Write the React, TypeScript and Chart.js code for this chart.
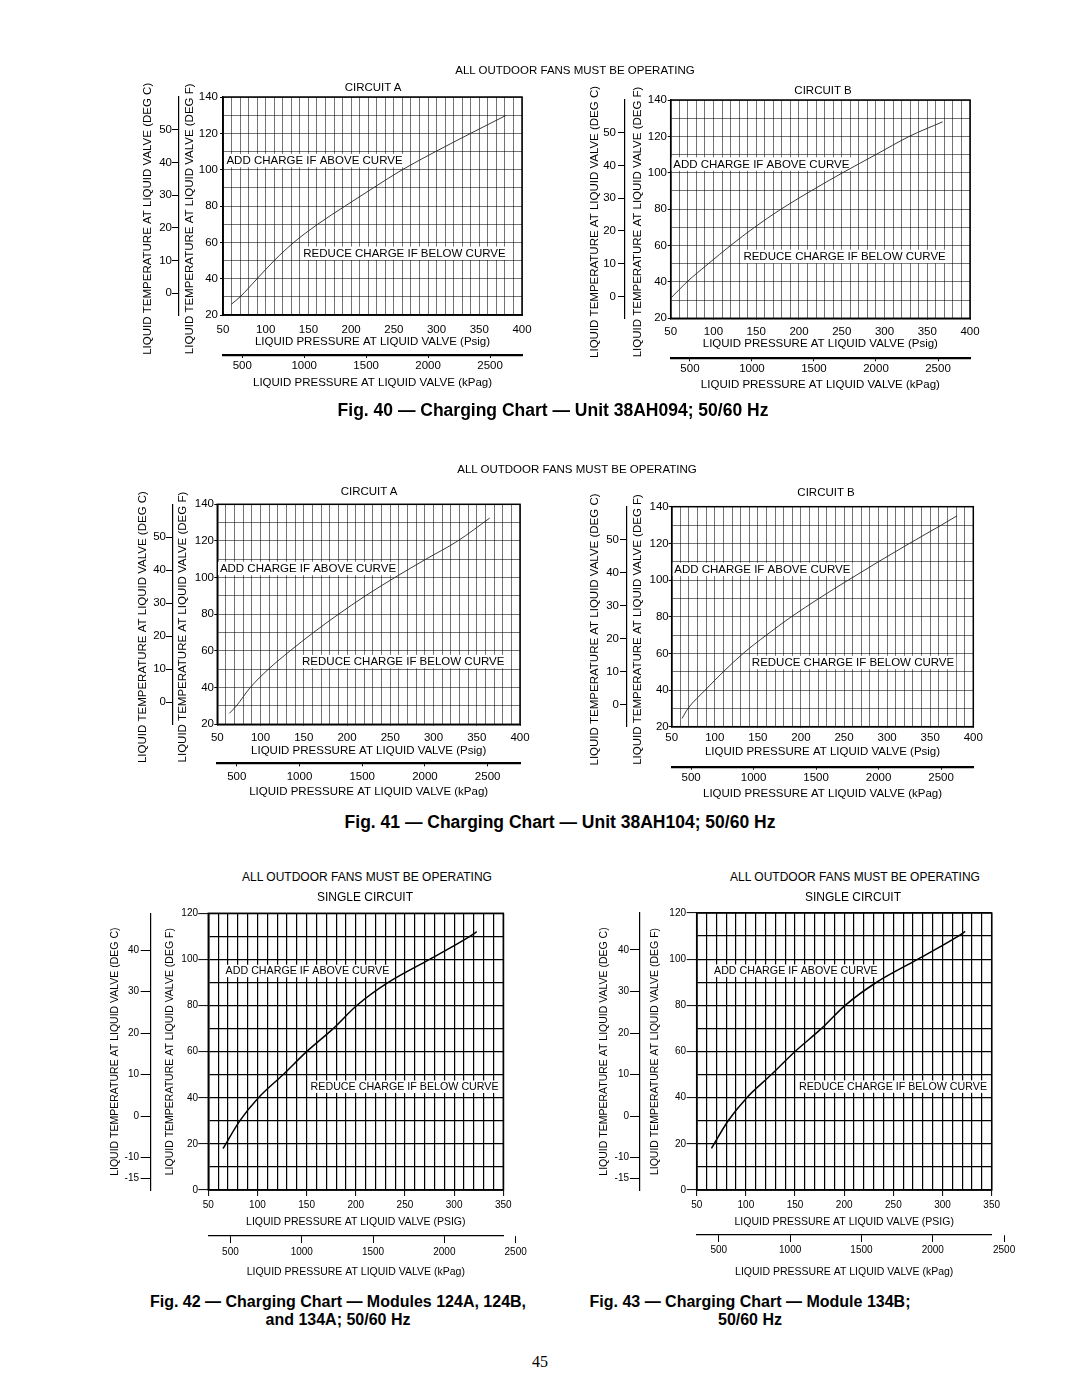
import React, { useEffect, useRef } from 'react';
import { Chart, registerables } from 'chart.js';

Chart.register(...registerables);

const FONT = "'Liberation Sans', Arial, Helvetica, sans-serif";
Chart.defaults.font.family = FONT;
Chart.defaults.color = '#000';

const KPA_PER_PSI = 6.895;

// ---------- data ----------
// Fig. 40 — Unit 38AH094
const fig40A_psig = [60, 70, 90, 110, 133, 161, 193, 226, 260, 299, 340, 381];
const fig40A_degF = [26, 30, 40, 50, 60, 70, 80, 90, 100, 110, 120, 129.8];
const fig40B_psig = [50, 69, 94, 120, 148, 179, 214, 251, 290, 329, 368];
const fig40B_degF = [31, 40, 50, 60, 70, 80, 90, 100, 110, 120, 128];
// Fig. 41 — Unit 38AH104
const fig41A_psig = [64, 72, 88, 109, 134, 161, 190, 221, 255, 291, 328, 365];
const fig41A_degF = [26, 30, 40, 50, 60, 70, 80, 90, 100, 110, 120, 132.5];
const fig41B_psig = [62, 69, 89, 110, 133, 160, 189, 221, 255, 290, 326, 363, 381];
const fig41B_degF = [24.5, 30, 40, 50, 60, 70, 80, 90, 100, 110, 120, 130, 135];
// Fig. 42 — Modules 124A, 124B, 134A
const fig42_psig = [65, 82, 101, 126, 150, 177, 201, 233, 275, 316, 323];
const fig42_degF = [18, 30, 40, 50, 60, 70, 80, 90, 100, 110, 112];
// Fig. 43 — Module 134B
const fig43_psig = [65, 82, 101, 126, 150, 177, 201, 233, 275, 316, 323];
const fig43_degF = [18, 30, 40, 50, 60, 70, 80, 90, 100, 110, 112];

// tick labels
const topPsigLabels = [50, 100, 150, 200, 250, 300, 350, 400];
const topDegFLabels = [20, 40, 60, 80, 100, 120, 140];
const topDegCLabels = [0, 10, 20, 30, 40, 50];
const botPsigLabels = [50, 100, 150, 200, 250, 300, 350];
const botDegFLabels = [0, 20, 40, 60, 80, 100, 120];
const botDegCLabels = [-15, -10, 0, 10, 20, 30, 40];
const kpagLabels = [500, 1000, 1500, 2000, 2500];
const GRID_STEP = 10;

const ADD_TEXT = 'ADD CHARGE IF ABOVE CURVE';
const REDUCE_TEXT = 'REDUCE CHARGE IF BELOW CURVE';

// ---------- styles ----------
const topStyle = {
  tickSize: 11.5, titleSize: 11.5, noteSize: 11.5,
  fTick: 3, cTick: 7, xTick: 0, kTick: 3,
  gridColor: 'rgba(0,0,0,0.55)', gridWidth: 1,
  curveColor: '#222', curveWidth: 0.9, frameWidth: 1.5,
  kBorderWidth: 2.2, cBorderWidth: 1.2,
  psigTitle: 'LIQUID PRESSURE AT LIQUID VALVE (Psig)',
  vTitleTail: '\u00a0'.repeat(8),
};
const bottomStyle = {
  tickSize: 10, titleSize: 10.5, noteSize: 10.7,
  fTick: 10, cTick: 10, xTick: 6, kTick: 7,
  gridColor: '#000', gridWidth: 1.2,
  curveColor: '#000', curveWidth: 1.5, frameWidth: 1.5,
  kBorderWidth: 1.2, cBorderWidth: 1.2,
  psigTitle: 'LIQUID PRESSURE AT LIQUID VALVE (PSIG)',
  vTitleTail: '',
};

type Spec = any;

const specs: Spec[] = [
  {
    ...topStyle, psig: fig40A_psig, degF: fig40A_degF,
    psigLabels: topPsigLabels, fLabels: topDegFLabels, cLabels: topDegCLabels,
    canvas: { left: 125, top: 55, width: 420, height: 345 },
    plot: { l: 223, r: 522, t: 97, b: 315 },
    cLine: 179, cTitleX: 148, fTitleX: 190, fLabelRight: 218, cLabelRight: 172,
    xLabelY: 330, psigTitleY: 342.3, kLineY: 355, kLabelY: 365.7, kTitleY: 383.3,
    notes: [{ text: ADD_TEXT, x: 54, y: 105 }, { text: REDUCE_TEXT, x: 144, y: 54 }],
  },
  {
    ...topStyle, psig: fig40B_psig, degF: fig40B_degF,
    psigLabels: topPsigLabels, fLabels: topDegFLabels, cLabels: topDegCLabels,
    canvas: { left: 570, top: 55, width: 425, height: 350 },
    plot: { l: 670.7, r: 970, t: 100, b: 318.3 },
    cLine: 625, cTitleX: 595, fTitleX: 638, fLabelRight: 667, cLabelRight: 616,
    xLabelY: 331.7, psigTitleY: 344.3, kLineY: 358.3, kLabelY: 369.3, kTitleY: 385,
    notes: [{ text: ADD_TEXT, x: 53, y: 104.8 }, { text: REDUCE_TEXT, x: 135, y: 54 }],
  },
  {
    ...topStyle, psig: fig41A_psig, degF: fig41A_degF,
    psigLabels: topPsigLabels, fLabels: topDegFLabels, cLabels: topDegCLabels,
    canvas: { left: 120, top: 460, width: 425, height: 345 },
    plot: { l: 217.3, r: 520, t: 504.3, b: 724.3 },
    cLine: 173, cTitleX: 143, fTitleX: 183, fLabelRight: 214, cLabelRight: 166,
    xLabelY: 737.7, psigTitleY: 751, kLineY: 763.3, kLabelY: 776.7, kTitleY: 792.3,
    notes: [{ text: ADD_TEXT, x: 53, y: 105 }, { text: REDUCE_TEXT, x: 148, y: 54.2 }],
  },
  {
    ...topStyle, psig: fig41B_psig, degF: fig41B_degF,
    psigLabels: topPsigLabels, fLabels: topDegFLabels, cLabels: topDegCLabels,
    canvas: { left: 570, top: 460, width: 430, height: 345 },
    plot: { l: 671.7, r: 973.3, t: 506.7, b: 726.7 },
    cLine: 627, cTitleX: 595, fTitleX: 638, fLabelRight: 669, cLabelRight: 619,
    xLabelY: 738.3, psigTitleY: 751.7, kLineY: 766.7, kLabelY: 778.3, kTitleY: 794.3,
    notes: [{ text: ADD_TEXT, x: 53, y: 105.8 }, { text: REDUCE_TEXT, x: 143, y: 55 }],
  },
  {
    ...bottomStyle, psig: fig42_psig, degF: fig42_degF,
    psigLabels: botPsigLabels, fLabels: botDegFLabels, cLabels: botDegCLabels,
    canvas: { left: 85, top: 900, width: 460, height: 385 },
    plot: { l: 208.3, r: 503.3, t: 913.3, b: 1190 },
    cLine: 150.7, cTitleX: 115, fTitleX: 170, fLabelRight: 198, cLabelRight: 139,
    xLabelY: 1205.5, psigTitleY: 1222.3, kLineY: 1236, kLabelY: 1252.3, kTitleY: 1272.3,
    notes: [{ text: ADD_TEXT, x: 67.6, y: 95 }, { text: REDUCE_TEXT, x: 154, y: 44.8 }],
  },
  {
    ...bottomStyle, psig: fig43_psig, degF: fig43_degF,
    psigLabels: botPsigLabels, fLabels: botDegFLabels, cLabels: botDegCLabels,
    canvas: { left: 575, top: 900, width: 470, height: 385 },
    plot: { l: 696.7, r: 991.7, t: 913, b: 1190 },
    cLine: 640, cTitleX: 604, fTitleX: 655, fLabelRight: 686, cLabelRight: 629,
    xLabelY: 1205.7, psigTitleY: 1222.3, kLineY: 1235, kLabelY: 1250, kTitleY: 1271.7,
    notes: [{ text: ADD_TEXT, x: 67.6, y: 95 }, { text: REDUCE_TEXT, x: 154, y: 44.8 }],
  },
];

// ---------- plugin: plot frame + zone notes ----------
const zoneNotes = {
  id: 'zoneNotes',
  beforeDatasetsDraw(chart: any, _args: any, opts: any) {
    const { ctx, chartArea, scales } = chart;
    ctx.save();
    ctx.font = `${opts.size}px ${FONT}`;
    ctx.textBaseline = 'middle';
    ctx.textAlign = 'left';
    for (const n of opts.items || []) {
      const x = scales.x.getPixelForValue(n.x);
      const y = scales.y.getPixelForValue(n.y);
      const w = ctx.measureText(n.text).width;
      ctx.fillStyle = '#fff';
      ctx.fillRect(x - 2, y - opts.size * 0.58, w + 4, opts.size * 1.16);
      ctx.fillStyle = '#000';
      ctx.fillText(n.text, x, y + 0.5);
    }
    ctx.strokeStyle = '#000';
    ctx.lineWidth = opts.frameWidth;
    ctx.strokeRect(chartArea.left, chartArea.top, chartArea.right - chartArea.left, chartArea.bottom - chartArea.top);
    ctx.restore();
  },
};

function makeConfig(s: Spec): any {
  const lhTick = s.tickSize * 1.2;
  const lhTitle = s.titleSize * 1.2;
  const cBottom = s.canvas.top + s.canvas.height;
  const cRight = s.canvas.left + s.canvas.width;
  const cW = s.cLine - s.canvas.left;
  const fW = s.plot.l - s.cLine;
  const psigH = s.kLineY - s.plot.b;
  const kH = cBottom - s.kLineY;
  const fMin = s.fLabels[0];
  const fMax = s.fLabels[s.fLabels.length - 1];
  const pMin = s.psigLabels[0];
  const pMax = s.psigLabels[s.psigLabels.length - 1];
  const nn = (v: number) => Math.max(0, v);
  const tickFont = { family: FONT, size: s.tickSize };
  const titleFont = { family: FONT, size: s.titleSize };
  const markColor = (labels: number[]) => (c: any) =>
    c.tick && labels.includes(c.tick.value) ? '#000' : 'rgba(0,0,0,0)';
  const label = (labels: number[]) => (v: any) => (labels.includes(Number(v)) ? String(v) : '');

  return {
    type: 'scatter',
    data: {
      datasets: [
        {
          data: s.psig.map((x: number, i: number) => ({ x, y: s.degF[i] })),
          showLine: true,
          borderColor: s.curveColor,
          borderWidth: s.curveWidth,
          pointRadius: 0,
          cubicInterpolationMode: 'monotone',
          fill: false,
          xAxisID: 'x',
          yAxisID: 'y',
        },
      ],
    },
    options: {
      responsive: false,
      animation: false,
      devicePixelRatio: 1,
      events: [],
      layout: {
        padding: { left: 0, top: s.plot.t - s.canvas.top, right: cRight - s.plot.r, bottom: 0 },
      },
      plugins: {
        legend: { display: false },
        tooltip: { enabled: false },
        zoneNotes: { items: s.notes, size: s.noteSize, frameWidth: s.frameWidth },
      },
      scales: {
        x: {
          type: 'linear', axis: 'x', position: 'bottom', weight: 0,
          min: pMin, max: pMax,
          afterFit: (sc: any) => { sc.height = psigH; },
          ticks: {
            stepSize: GRID_STEP, autoSkip: false, maxRotation: 0, minRotation: 0,
            font: tickFont, color: '#000',
            padding: nn(s.xLabelY - s.plot.b - s.xTick - lhTick / 2),
            callback: label(s.psigLabels),
          },
          grid: {
            color: s.gridColor, lineWidth: s.gridWidth, drawTicks: true,
            tickLength: s.xTick, tickColor: markColor(s.psigLabels), tickWidth: 1,
          },
          border: { display: true, color: '#000', width: 1.5 },
          title: {
            display: true, text: s.psigTitle, font: titleFont, color: '#000',
            padding: { top: 0, bottom: nn(s.kLineY - s.psigTitleY - lhTitle / 2) },
          },
        },
        xk: {
          type: 'linear', axis: 'x', position: 'bottom', weight: 10,
          min: pMin * KPA_PER_PSI, max: pMax * KPA_PER_PSI,
          afterBuildTicks: (sc: any) => { sc.ticks = kpagLabels.map((v) => ({ value: v })); },
          afterFit: (sc: any) => { sc.height = kH; },
          ticks: {
            autoSkip: false, maxRotation: 0, minRotation: 0, font: tickFont, color: '#000',
            padding: nn(s.kLabelY - s.kLineY - s.kTick - lhTick / 2),
            callback: (v: any) => String(v),
          },
          grid: { drawOnChartArea: false, drawTicks: true, tickLength: s.kTick, color: '#000', tickWidth: 1 },
          border: { display: true, color: '#000', width: s.kBorderWidth },
          title: {
            display: true, text: 'LIQUID PRESSURE AT LIQUID VALVE (kPag)', font: titleFont, color: '#000',
            padding: { top: 0, bottom: nn(cBottom - s.kTitleY - lhTitle / 2) },
          },
        },
        y: {
          type: 'linear', axis: 'y', position: 'left', weight: 0,
          min: fMin, max: fMax,
          afterFit: (sc: any) => { sc.width = fW; },
          ticks: {
            stepSize: GRID_STEP, autoSkip: false, font: tickFont, color: '#000',
            padding: nn(s.plot.l - s.fLabelRight - s.fTick),
            callback: label(s.fLabels),
          },
          grid: {
            color: s.gridColor, lineWidth: s.gridWidth, drawTicks: true,
            tickLength: s.fTick, tickColor: markColor(s.fLabels), tickWidth: 1,
          },
          border: { display: true, color: '#000', width: 1.5 },
          title: {
            display: true, text: 'LIQUID TEMPERATURE AT LIQUID VALVE (DEG F)' + s.vTitleTail,
            font: titleFont, color: '#000',
            padding: { top: nn(s.fTitleX - s.cLine - lhTitle / 2), bottom: 0 },
          },
        },
        yc: {
          type: 'linear', axis: 'y', position: 'left', weight: 10,
          min: (fMin - 32) / 1.8, max: (fMax - 32) / 1.8,
          afterBuildTicks: (sc: any) => { sc.ticks = s.cLabels.map((v: number) => ({ value: v })); },
          afterFit: (sc: any) => { sc.width = cW; },
          ticks: {
            autoSkip: false, font: tickFont, color: '#000',
            padding: nn(s.cLine - s.cLabelRight - s.cTick),
            callback: (v: any) => String(v),
          },
          grid: { drawOnChartArea: false, drawTicks: true, tickLength: s.cTick, color: '#000', tickWidth: 1 },
          border: { display: true, color: '#000', width: s.cBorderWidth },
          title: {
            display: true, text: 'LIQUID TEMPERATURE AT LIQUID VALVE (DEG C)' + s.vTitleTail,
            font: titleFont, color: '#000',
            padding: { top: nn(s.cTitleX - s.canvas.left - lhTitle / 2), bottom: 0 },
          },
        },
      },
    },
    plugins: [zoneNotes],
  };
}

function ChartCanvas({ spec }: { spec: Spec }) {
  const ref = useRef<HTMLCanvasElement>(null);
  useEffect(() => {
    if (!ref.current) return;
    const chart = new Chart(ref.current, makeConfig(spec));
    return () => chart.destroy();
  }, [spec]);
  const { left, top, width, height } = spec.canvas;
  return (
    <canvas
      ref={ref}
      width={width}
      height={height}
      style={{ position: 'absolute', left, top, width, height }}
    />
  );
}

function Txt({ x, y, size, bold, serif, children }: any) {
  return (
    <div
      style={{
        position: 'absolute', left: x, top: y, transform: 'translate(-50%, -50%)',
        whiteSpace: 'nowrap', fontSize: size, fontWeight: bold ? 700 : 400,
        fontFamily: serif ? "'Liberation Serif', 'Times New Roman', serif" : FONT,
        lineHeight: 1, color: '#000', textAlign: 'center',
      }}
    >
      {children}
    </div>
  );
}

export default function App() {
  return (
    <div style={{ position: 'absolute', left: 0, top: 0, width: 1080, height: 1397, background: '#fff', overflow: 'hidden' }}>
      {specs.map((s, i) => (
        <ChartCanvas key={i} spec={s} />
      ))}

      <Txt x={575} y={71} size={11.5}>ALL OUTDOOR FANS MUST BE OPERATING</Txt>
      <Txt x={373} y={88} size={11.5}>CIRCUIT A</Txt>
      <Txt x={823} y={91} size={11.5}>CIRCUIT B</Txt>
      <Txt x={553} y={411} size={17.5} bold>Fig. 40 — Charging Chart — Unit 38AH094; 50/60 Hz</Txt>

      <Txt x={577} y={470} size={11.5}>ALL OUTDOOR FANS MUST BE OPERATING</Txt>
      <Txt x={369} y={492} size={11.5}>CIRCUIT A</Txt>
      <Txt x={826} y={493} size={11.5}>CIRCUIT B</Txt>
      <Txt x={560} y={823} size={17.5} bold>Fig. 41 — Charging Chart — Unit 38AH104; 50/60 Hz</Txt>

      <Txt x={367} y={877} size={12}>ALL OUTDOOR FANS MUST BE OPERATING</Txt>
      <Txt x={365} y={897} size={12}>SINGLE CIRCUIT</Txt>
      <Txt x={855} y={877} size={12}>ALL OUTDOOR FANS MUST BE OPERATING</Txt>
      <Txt x={853} y={897} size={12}>SINGLE CIRCUIT</Txt>

      <Txt x={338} y={1302} size={16} bold>Fig. 42 — Charging Chart — Modules 124A, 124B,</Txt>
      <Txt x={338} y={1320} size={16} bold>and 134A; 50/60 Hz</Txt>
      <Txt x={750} y={1302} size={16} bold>Fig. 43 — Charging Chart — Module 134B;</Txt>
      <Txt x={750} y={1320} size={16} bold>50/60 Hz</Txt>

      <Txt x={540} y={1362} size={16} serif>45</Txt>
    </div>
  );
}
